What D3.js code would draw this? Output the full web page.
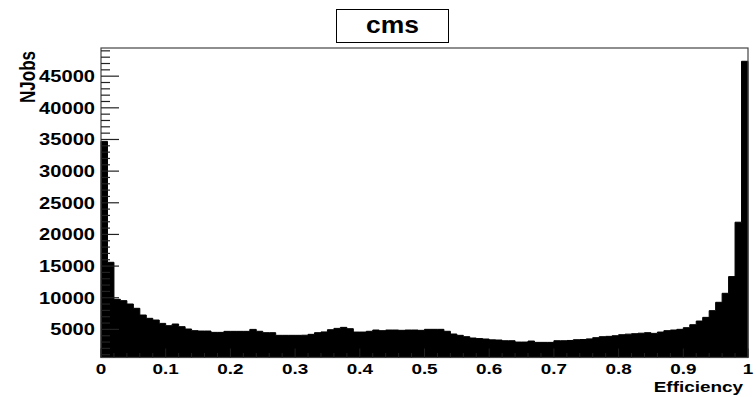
<!DOCTYPE html>
<html>
<head>
<meta charset="utf-8">
<script src="https://cdn.jsdelivr.net/npm/d3@7"></script>
<style>
  body { margin: 0; background: #fff; }
  text { font-family: "Liberation Sans", Arial, sans-serif; font-weight: bold; fill: #000; }
</style>
</head>
<body>
<div id="container"></div>
<script>
/* CONSTANTS AND GLOBALS */
const width = 756,
  height = 397,
  margin = { top: 48, bottom: 39.5, left: 101, right: 8 }

// histogram: 100 bins between 0 and 1
const nBins = 100
const xRange = [0, 1]
const yRange = [560, 49450]
const yTicks = [5000, 10000, 15000, 20000, 25000, 30000, 35000, 40000, 45000]
const xTicks = [0, 0.1, 0.2, 0.3, 0.4, 0.5, 0.6, 0.7, 0.8, 0.9, 1]
const xTickLabels = ["0", "0.1", "0.2", "0.3", "0.4", "0.5", "0.6", "0.7", "0.8", "0.9", "1"]
const title = "cms"
const xTitle = "Efficiency"
const yTitle = "NJobs"

// bin contents
const counts = [
  34700, 15600, 9750, 9540, 9010, 8330, 7270, 6750, 6480, 5950,
  5590, 5850, 5430, 5060, 4800, 4740, 4740, 4530, 4530, 4690,
  4690, 4690, 4690, 5000, 4700, 4480, 4480, 4060, 4060, 4060,
  4060, 4080, 4220, 4480, 4600, 4950, 5160, 5320, 5110, 4580,
  4580, 4700, 4900, 4800, 4900, 4900, 4850, 4900, 4900, 4850,
  5010, 5010, 5010, 4700, 4270, 4060, 3850, 3640, 3550, 3480,
  3350, 3320, 3210, 3210, 3000, 3000, 3160, 2950, 2950, 2950,
  3210, 3210, 3250, 3370, 3400, 3500, 3690, 3850, 3900, 4000,
  4160, 4250, 4320, 4400, 4480, 4370, 4580, 4800, 4900, 5010,
  5270, 5740, 6320, 6900, 7960, 9280, 10700, 13340, 21930, 47350
]

const stretch = 1.22 // the text of the original is a bit wide

let svg, xScale, yScale

function init() {
  xScale = d3.scaleLinear()
    .domain(xRange)
    .range([margin.left, width - margin.right])

  yScale = d3.scaleLinear()
    .domain(yRange)
    .range([height - margin.bottom, margin.top])

  svg = d3.select('#container')
    .append('svg')
    .attr('width', width)
    .attr('height', height)

  const binW = (xRange[1] - xRange[0]) / nBins
  const bins = counts.map((c, i) => ({ lo: xRange[0] + i * binW, hi: xRange[0] + (i + 1) * binW, n: c }))

  // + HISTOGRAM (one filled step area)
  const pts = []
  pts.push([xScale(bins[0].lo), yScale(yRange[0])])
  bins.forEach(b => {
    pts.push([xScale(b.lo), yScale(b.n)])
    pts.push([xScale(b.hi), yScale(b.n)])
  })
  pts.push([xScale(bins[bins.length - 1].hi), yScale(yRange[0])])

  svg.append('path')
    .attr('d', d3.line()(pts) + 'Z')
    .attr('fill', '#000')
    .attr('stroke', '#000')
    .attr('stroke-width', 1)

  // + FRAME
  svg.append('rect')
    .attr('x', xScale(xRange[0]))
    .attr('y', yScale(yRange[1]))
    .attr('width', xScale(xRange[1]) - xScale(xRange[0]))
    .attr('height', yScale(yRange[0]) - yScale(yRange[1]))
    .attr('fill', 'none')
    .attr('stroke', '#444')
    .attr('stroke-width', 1.2)

  // + Y AXIS: ticks inside, long majors, 4 minors between
  const tickLen = 18
  const yMinor = d3.range(1000, yRange[1], 1000)
  svg.append('g')
    .selectAll('line')
    .data(yMinor)
    .join('line')
    .attr('x1', xScale(xRange[0]))
    .attr('x2', d => xScale(xRange[0]) + (d % 5000 === 0 ? tickLen : tickLen / 2))
    .attr('y1', d => yScale(d))
    .attr('y2', d => yScale(d))
    .attr('stroke', '#222')
    .attr('stroke-width', 1.2)

  svg.append('g')
    .selectAll('text')
    .data(yTicks)
    .join('text')
    .attr('transform', d => `translate(95,${yScale(d)}) scale(${stretch},1)`)
    .attr('text-anchor', 'end')
    .attr('dy', '0.36em')
    .style('font-size', '16.5px')
    .text(d => d)

  // + X AXIS
  const xMinor = d3.range(0, 51).map(i => i * 0.02)
  svg.append('g')
    .selectAll('line')
    .data(xMinor)
    .join('line')
    .attr('x1', d => xScale(d))
    .attr('x2', d => xScale(d))
    .attr('y1', yScale(yRange[0]))
    .attr('y2', (d, i) => yScale(yRange[0]) - (i % 5 === 0 ? 9 : 4.5))
    .attr('stroke', '#222')

  svg.append('g')
    .selectAll('text')
    .data(xTicks)
    .join('text')
    .attr('transform', d => `translate(${xScale(d)},374) scale(${stretch},1)`)
    .attr('text-anchor', 'middle')
    .style('font-size', '15.5px')
    .text((d, i) => xTickLabels[i])

  // + AXIS TITLES
  svg.append('text')
    .attr('transform', `translate(743,392) scale(${stretch},1)`)
    .attr('text-anchor', 'end')
    .style('font-size', '15.5px')
    .text(xTitle)

  svg.append('text')
    .attr('transform', `translate(35,51) scale(1.3,1) rotate(-90)`)
    .attr('text-anchor', 'end')
    .style('font-size', '17px')
    .text(yTitle)

  // + TITLE BOX
  svg.append('rect')
    .attr('x', 336.5)
    .attr('y', 9.5)
    .attr('width', 112)
    .attr('height', 33)
    .attr('fill', '#fff')
    .attr('stroke', '#000')
    .attr('stroke-width', 1)

  svg.append('text')
    .attr('transform', `translate(392.5,33) scale(1.15,1)`)
    .attr('text-anchor', 'middle')
    .style('font-size', '23px')
    .text(title)
}

init()
</script>
</body>
</html>
